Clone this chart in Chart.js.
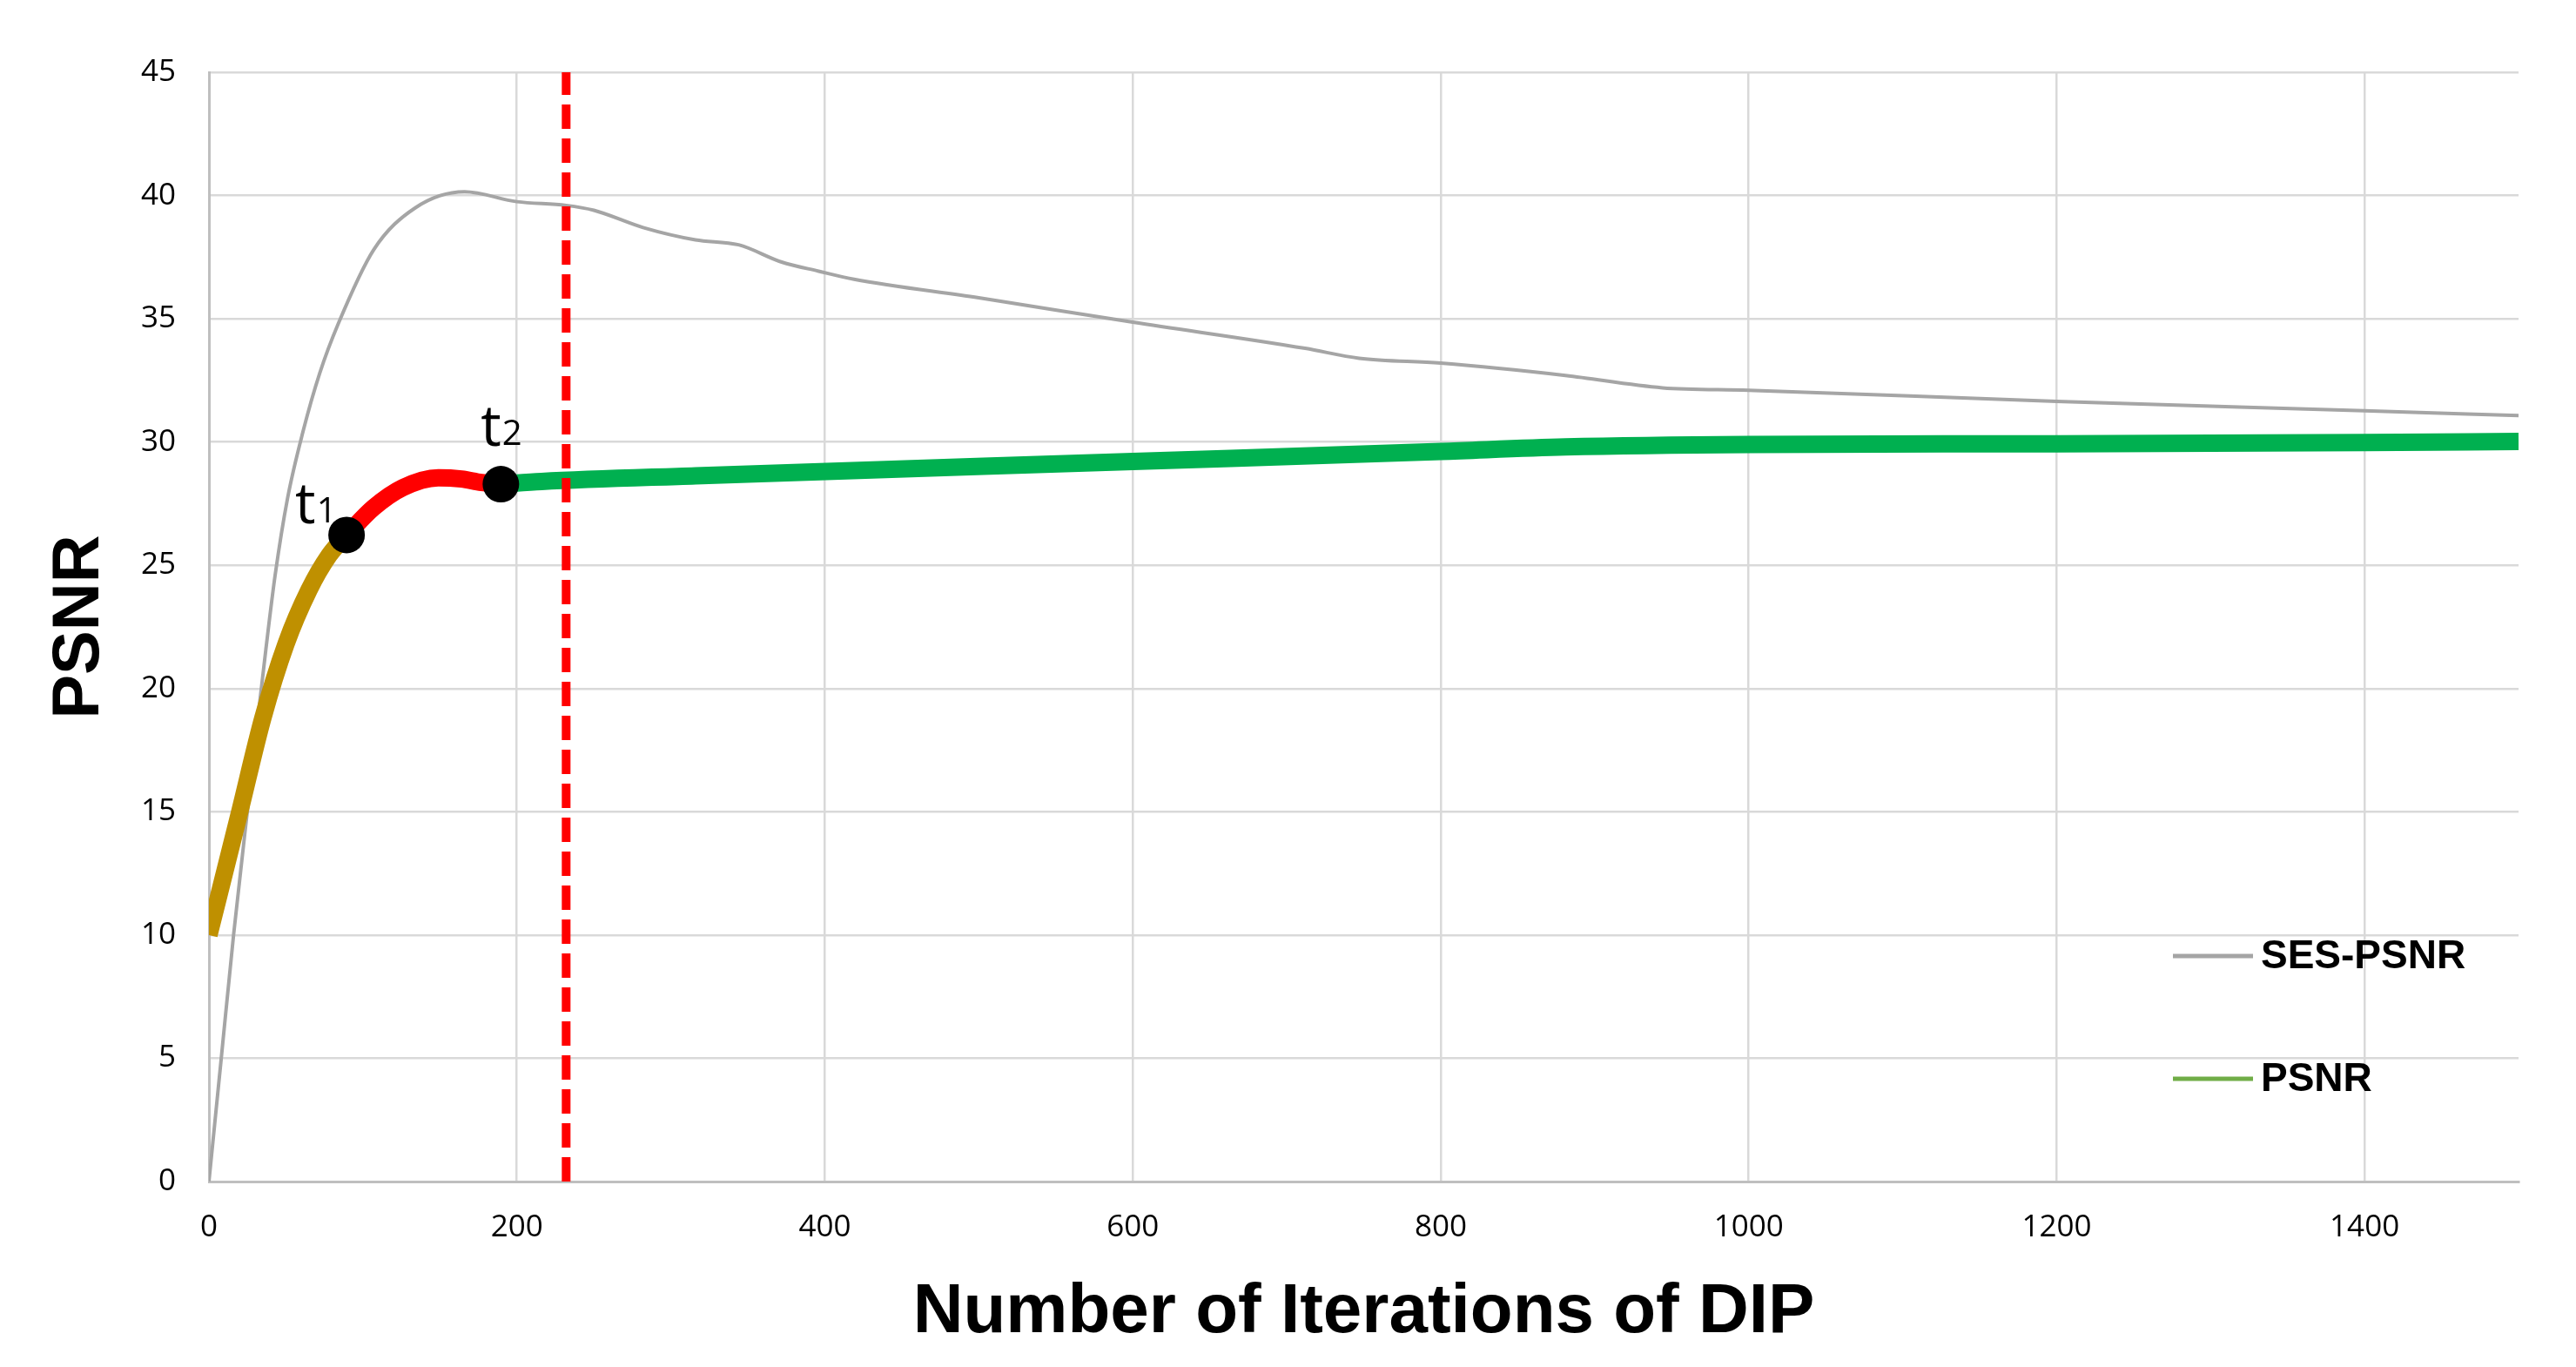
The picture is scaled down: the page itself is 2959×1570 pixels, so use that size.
<!DOCTYPE html>
<html>
<head>
<meta charset="utf-8">
<script src="https://cdn.jsdelivr.net/npm/chart.js@4.4.1/dist/chart.umd.min.js"></script>
<style>
  html, body { margin: 0; padding: 0; background: #fff; }
  #wrap { width: 2959px; height: 1570px; }
</style>
</head>
<body>
<div id="wrap"><canvas id="chart" width="2959" height="1570"></canvas></div>
<script>
// --- data ---
const X_TICKS = [0, 200, 400, 600, 800, 1000, 1200, 1400];
const Y_TICKS = [0, 5, 10, 15, 20, 25, 30, 35, 40, 45];

// SES-PSNR (thin grey curve)
const SES_X = [0, 8, 16, 26, 32, 37, 43, 51, 61, 72, 84, 107, 134, 166, 200, 232, 250, 282, 316, 344, 372, 396, 419, 500, 600, 712, 747, 800, 881, 944, 1000, 1200, 1400, 1500];
const SES_Y = [0, 5, 10, 15.6, 18.9, 21.6, 24.6, 27.7, 30.4, 32.8, 34.8, 37.8, 39.5, 40.15, 39.75, 39.6, 39.4, 38.7, 38.2, 38.0, 37.3, 36.93, 36.6, 35.85, 34.86, 33.8, 33.4, 33.2, 32.7, 32.2, 32.1, 31.65, 31.27, 31.07];

// PSNR, split in three phases
const EARLY_X = [0, 20, 35, 50, 65, 78, 89.4];
const EARLY_Y = [10, 15.0, 18.8, 21.8, 24.0, 25.4, 26.23];
const MID_X = [89.4, 107, 126, 149, 164, 177, 189.6];
const MID_Y = [26.23, 27.34, 28.15, 28.55, 28.5, 28.36, 28.29];
const LATE_X = [189.6, 216, 316, 600, 800, 881, 1000, 1200, 1400, 1500];
const LATE_Y = [28.29, 28.4, 28.63, 29.21, 29.62, 29.8, 29.9, 29.93, 29.98, 30.02];

// marked points t1, t2
const MARK_X = [89.4, 189.6];
const MARK_Y = [26.23, 28.29];
const MARK_SUB = ['1', '2'];

// early-stop iteration (red dashed line)
const STOP_X = [232, 232];
const STOP_Y = [0, 45];

const LEGEND_NAMES = ['SES-PSNR', 'PSNR'];
const LEGEND_COLORS = ['#A5A5A5', '#70AD47'];

const pts = (xs, ys) => xs.map((x, i) => ({ x, y: ys[i] }));

const TICK_FONT = { family: '"Open Sans", "Noto Sans", sans-serif', size: 35 };
const X_TITLE_FONT = { family: '"Liberation Sans", Arial, sans-serif', size: 80, weight: 'bold' };
const Y_TITLE_FONT = { family: '"Liberation Sans", Arial, sans-serif', size: 76, weight: 'bold' };

// t1 / t2 labels next to the black dots
const markLabels = {
  id: 'markLabels',
  afterDatasetsDraw(chart) {
    const { ctx, scales } = chart;
    // offsets of the label from its dot: [dx, dy]
    const offs = [[-59, -13], [-23, -44]];
    ctx.save();
    ctx.fillStyle = '#000';
    ctx.textBaseline = 'alphabetic';
    MARK_X.forEach((v, i) => {
      const px = scales.x.getPixelForValue(v) + offs[i][0];
      const py = scales.y.getPixelForValue(MARK_Y[i]) + offs[i][1];
      ctx.font = '66px "Open Sans", "Noto Sans", sans-serif';
      ctx.fillText('t', px, py);
      const w = ctx.measureText('t').width;
      ctx.font = '40px "Open Sans", "Noto Sans", sans-serif';
      ctx.fillText(MARK_SUB[i], px + w + 1, py - 1);
    });
    ctx.restore();
  },
};

// legend inside the plot, bottom right
const innerLegend = {
  id: 'innerLegend',
  afterDraw(chart) {
    const { ctx, chartArea } = chart;
    const rows = [chartArea.bottom - 259, chartArea.bottom - 118];
    const x0 = chartArea.right - 397;
    ctx.save();
    LEGEND_NAMES.forEach((name, i) => {
      ctx.strokeStyle = LEGEND_COLORS[i];
      ctx.lineWidth = 5;
      ctx.beginPath();
      ctx.moveTo(x0, rows[i]);
      ctx.lineTo(x0 + 92, rows[i]);
      ctx.stroke();
      ctx.fillStyle = '#000';
      ctx.font = 'bold 46px "Liberation Sans", Arial, sans-serif';
      ctx.textBaseline = 'middle';
      ctx.fillText(name, x0 + 101, rows[i] + 1);
    });
    ctx.restore();
  },
};

const lineDs = (data, color, width, order) => ({
  data,
  borderColor: color,
  backgroundColor: color,
  borderWidth: width,
  pointRadius: 0,
  cubicInterpolationMode: 'monotone',
  fill: false,
  order,
});

new Chart(document.getElementById('chart'), {
  type: 'line',
  data: {
    datasets: [
      {
        data: pts(MARK_X, MARK_Y),
        showLine: false,
        pointRadius: 21,
        pointBackgroundColor: '#000',
        pointBorderColor: '#000',
        pointBorderWidth: 0,
        order: 0,
      },
      {
        data: pts(STOP_X, STOP_Y),
        borderColor: '#FF0000',
        borderWidth: 10,
        borderDash: [28, 11],
        pointRadius: 0,
        order: 1,
      },
      lineDs(pts(LATE_X, LATE_Y), '#00B050', 20, 2),
      lineDs(pts(MID_X, MID_Y), '#FF0000', 20, 3),
      lineDs(pts(EARLY_X, EARLY_Y), '#BF9000', 20, 4),
      lineDs(pts(SES_X, SES_Y), '#A5A5A5', 4, 5),
    ],
  },
  options: {
    responsive: false,
    animation: false,
    layout: { padding: { top: 83, right: 66, left: 0, bottom: 0 } },
    plugins: {
      legend: { display: false },
      tooltip: { enabled: false },
    },
    scales: {
      x: {
        type: 'linear',
        min: 0,
        max: 1500,
        afterBuildTicks: s => { s.ticks = X_TICKS.map(v => ({ value: v })); },
        afterFit: s => { s.height = 213; },
        grid: { color: '#D9D9D9', lineWidth: 2.5, drawTicks: false },
        border: { color: '#BFBFBF', width: 3 },
        ticks: { font: TICK_FONT, color: '#000', padding: 32, maxRotation: 0, autoSkip: false, callback: v => String(v) },
        title: { display: true, text: 'Number of Iterations of DIP', color: '#000', font: X_TITLE_FONT, padding: { top: 0, bottom: 14 } },
      },
      y: {
        min: 0,
        max: 45,
        afterBuildTicks: s => { s.ticks = Y_TICKS.map(v => ({ value: v })); },
        afterFit: s => { s.width = 240; },
        grid: { color: '#D9D9D9', lineWidth: 2.5, drawTicks: false },
        border: { color: '#BFBFBF', width: 3 },
        ticks: { font: TICK_FONT, color: '#000', padding: 38, callback: v => String(v) },
        title: { display: true, text: 'PSNR', color: '#000', font: Y_TITLE_FONT, padding: { top: 46, bottom: 0 } },
      },
    },
  },
  plugins: [markLabels, innerLegend],
});
</script>
</body>
</html>
